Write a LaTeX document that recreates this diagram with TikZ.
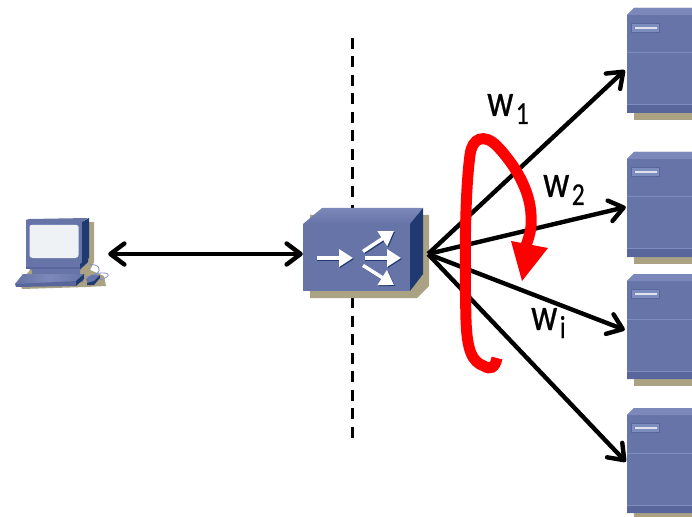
\documentclass[tikz,border=0pt]{standalone}
\usepackage{fontspec}
\newfontfamily\labfont[RawFeature={embolden=0.6}]{Carlito}
\setmainfont{Carlito}
\usetikzlibrary{arrows.meta}
\definecolor{bodyblue}{RGB}{103,116,168}
\definecolor{topblue}{RGB}{124,136,185}
\definecolor{sideblue}{RGB}{31,58,112}
\definecolor{dropcol}{RGB}{170,162,130}
\definecolor{lineblue}{RGB}{125,142,190}
\definecolor{darkband}{RGB}{88,102,155}
\definecolor{screen}{RGB}{238,242,245}
\tikzset{
 x=1bp,y=-1bp,
 barb/.style={Straight Barb[length=14bp,width=21bp,line width=4.4bp,round]},
 conn/.style={line width=4.4bp,black,{Straight Barb[length=14bp,width=21bp,line width=4.4bp,round]}-{Straight Barb[length=14bp,width=21bp,line width=4.4bp,round]}},
 link/.style={line width=4.4bp,black,-{Straight Barb[length=14bp,width=21bp,line width=4.4bp,round]}},
 lab/.style={inner sep=0pt,text=black,xscale=0.8,transform shape,font=\labfont\fontsize{46}{46}\selectfont},
 whitearrow/.style={line width=3.6bp,white,-{Triangle[length=14bp,width=17bp]}},
 arrowshade/.style={line width=3.6bp,sideblue,-{Triangle[length=14bp,width=17bp]}},
 server/.pic={
  \fill[dropcol] (7,5) rectangle (65,112);
  \fill[bodyblue] (0,7) -- (7,0) -- (65,0) -- (65,105) -- (0,105) -- cycle;
  \fill[topblue] (0,7) -- (7,0) -- (65,0) -- (65,7) -- cycle;
  \fill[darkband] (0,97) rectangle (65,105);
  \draw[lineblue,line width=1bp] (0,45) -- (65,45);
  \draw[lineblue,line width=1bp] (0,97) -- (65,97);
  \fill[darkband] (4,15) rectangle (33,25);
  \fill[lineblue] (5,16) rectangle (32,24);
  \fill[white!75!lineblue] (8,19) rectangle (30,21);
 }
}
\newcommand{\wlab}[2]{w\kern 3bp\raisebox{-8bp}{\fontsize{32}{32}\selectfont #1}}
\begin{document}
\begin{tikzpicture}
\useasboundingbox (0,0) rectangle (692,517);
% dashed boundary
\coordinate (dtop) at (352,38);
\coordinate (dbot) at (352,440);
\draw[black,line width=3bp,dash pattern=on 11bp off 7.5bp] (dtop) -- (dbot);
% servers
\pic at (627,8) {server};
\pic at (627,152) {server};
\pic at (627,274) {server};
\pic at (627,408) {server};
% pc shadow
\fill[dropcol] (36,223) -- (94,222) -- (94,262) -- (90,270) -- (104,276) -- (106,286) -- (86,287) -- (22,289) -- (20,283) -- (36,262) -- cycle;
% pc
\fill[bodyblue] (26,220) -- (29,219) -- (88,218) -- (82,222) -- (82,264) -- (26,264) -- cycle;
\fill[sideblue] (82,222) -- (89,218) -- (89,258) -- (82,264) -- cycle;
\fill[screen] (29.5,227) .. controls (29.5,225.5) and (30.5,225) .. (32,225) -- (76,225) .. controls (78,225) and (78.5,226) .. (78.5,227) -- (78.5,255) .. controls (78.5,257) and (77,258) .. (75,258) -- (33,258) .. controls (31,258) and (29.5,257) .. (29.5,255) -- cycle;
\fill[bodyblue] (26,264) -- (82,264) -- (88,258) -- (88,262) -- (80,270) -- (80,274) -- (32,274) -- (32,270) -- (26,268) -- cycle;
\fill[sideblue] (80,264) -- (88,258) -- (88,262) -- (80,269) -- cycle;
\fill[darkband] (26,267) -- (80,267) -- (80,269) -- (26,269) -- cycle;
\shade[left color=bodyblue,right color=bodyblue,middle color=topblue] (15,284) -- (23,274) -- (84,274) -- (83,282) -- (15,285) -- cycle;
\fill[sideblue] (76,281) -- (84,274) -- (84,279) -- (76,286) -- cycle;
\fill[darkband] (15,284) -- (76,281) -- (76,286) -- (16,287) -- cycle;
\draw[lineblue,line width=.8bp] (89,265) .. controls (98,263) and (103,270) .. (96,274) .. controls (93,276) and (88,277) .. (86,277);
\draw[lineblue,line width=.8bp] (92,275) .. controls (100,272) and (112,272) .. (107,277) .. controls (105,279) and (101,279) .. (100,280);
\fill[bodyblue] (86,279) -- (91,275) -- (100,275) -- (94,283) -- (88,285) -- cycle;
\fill[sideblue] (94,281) -- (100,275) -- (100,278) -- (94,285) -- (87,285) -- (87,283) -- cycle;
% hub
\fill[dropcol] (310,215) -- (429,215) -- (429,286) -- (417,298) -- (310,298) -- cycle;
\fill[bodyblue] (303,224) rectangle (410,291);
\shade[top color=topblue,bottom color=bodyblue] (303,224) -- (322,208) -- (423,208) -- (410,224) -- cycle;
\fill[sideblue] (410,224) -- (423,208) -- (423,274) -- (410,291) -- cycle;
\draw[arrowshade] (317,259) -- (354,259);
\draw[arrowshade] (364,252.5) -- (395,232);
\draw[arrowshade] (365,259) -- (402,259);
\draw[arrowshade] (364,266.5) -- (395,286);
\draw[whitearrow] (317,258) -- (353,258);
\draw[whitearrow] (363,251.5) -- (394,231);
\draw[whitearrow] (365,258) -- (401,258);
\draw[whitearrow] (363,265.5) -- (394,285);
% named connector ends
\node[inner sep=0pt,minimum size=0pt] (hub) at (428,254) {};
\node[inner sep=0pt,minimum size=0pt] (hubl) at (303,254) {};
\node[inner sep=0pt,minimum size=0pt] (pc) at (108,254) {};
\node[inner sep=0pt,minimum size=0pt] (s1) at (625,70) {};
\node[inner sep=0pt,minimum size=0pt] (s2) at (626,207) {};
\node[inner sep=0pt,minimum size=0pt] (s3) at (625,330) {};
\node[inner sep=0pt,minimum size=0pt] (s4) at (626,462) {};
\draw[conn] (pc) -- (hubl);
\draw[link] (hub) -- (s1);
\draw[link] (hub) -- (s2);
\draw[link] (hub) -- (s3);
\draw[link] (hub) -- (s4);
% labels
\node[lab,anchor=base west] (w1) at (487,116) {\wlab{1}{}};
\node[lab,anchor=base west] (w2) at (543,197) {\wlab{2}{}};
\node[lab,anchor=base west] (wi) at (531,330) {\wlab{i}{}};
% red arrow
\coordinate (r0) at (497,358);
\coordinate (r1) at (524,251);
\draw[red,line width=11bp] (r0) .. controls (495,368) and (490,370) .. (484,366) .. controls (472,362) and (467,350) .. (466,320) .. controls (465,280) and (464,200) .. (470,155) .. controls (472,138) and (484,133) .. (497,146) .. controls (515,165) and (530,190) .. (531,215) .. controls (532,228) and (530,235) .. (r1);
\fill[red] (511,241) -- (548,248) -- (522,281) -- cycle;
\end{tikzpicture}
\end{document}
